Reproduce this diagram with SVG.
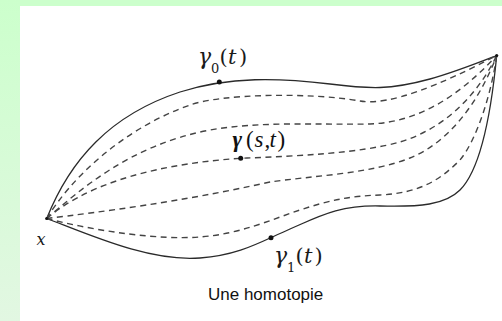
<svg xmlns="http://www.w3.org/2000/svg" width="502" height="321" viewBox="0 0 502 321">
  <defs>
    <linearGradient id="side" x1="0" y1="0" x2="0" y2="1">
      <stop offset="0" stop-color="#ccffcc"/>
      <stop offset="1" stop-color="#e2f7e2"/>
    </linearGradient>
  </defs>
  <style>
    .solid { fill: none; stroke: #2a2a2a; stroke-width: 1.3; }
    .dash { fill: none; stroke: #444; stroke-width: 1.4; stroke-dasharray: 6 4.5; }
    .dot { fill: #111; }
    .math { font-family: "DejaVu Serif", "Liberation Serif", serif; fill: #1a1a1a; }
    .times { font-family: "Liberation Serif", "DejaVu Serif", serif; fill: #111; }
    .it { font-style: italic; }
    .cap { font-family: "Liberation Sans", Arial, sans-serif; font-size: 17px; fill: #111; }
  </style>

  <rect x="0" y="0" width="502" height="321" fill="#ffffff"/>
  <rect x="0" y="0" width="502" height="6" fill="#ccffcc"/>
  <rect x="0" y="0" width="20" height="321" fill="url(#side)"/>

  <g id="connectors">
    <path id="gamma0" class="solid" d="M46.7,218.5 C70,160 110,115 180,92 C230,76 280,78 330,84 C370,89 390,90 430,79 C455,72 480,62 496.7,55.5"/>
    <path id="gamma1" class="solid" d="M46.7,218.5 C90,235 150,262 200,258 C240,255 260,242 290,229 C320,216 340,205 380,206 C420,207 445,205 460,190 C478,172 490,125 496.7,55.5"/>
    <path id="h1" class="dash" d="M46.7,218.5 C70,180 120,130 190,105 C220,94 310,92 360,101 C390,106 440,85 496.7,55.5"/>
    <path id="h2" class="dash" d="M46.7,218.5 C80,190 130,145 210,130 C260,121 320,125 370,124 C420,122 460,95 496.7,55.5"/>
    <path id="h3" class="dash" d="M46.7,218.5 C80,190 140,165 240.7,158.3 C300,156 360,153 400,142 C440,130 475,100 496.7,55.5"/>
    <path id="h4" class="dash" d="M46.7,218.5 C100,212 180,202 270,182 C310,176 370,174 410,158 C450,142 480,100 496.7,55.5"/>
    <path id="h5" class="dash" d="M46.7,218.5 C100,232 160,240 200,237 C240,234 270,220 300,210 C330,200 350,196 380,195 C420,193 440,180 460,160 C478,138 492,90 496.7,55.5"/>
  </g>

  <g id="node-x">
    <circle class="dot" cx="46.7" cy="218.5" r="1.6"/>
    <text class="math it" x="36.5" y="244.5" font-size="16">x</text>
  </g>
  <g id="node-y">
    <circle class="dot" cx="496.7" cy="55.5" r="1.6"/>
  </g>
  <g id="node-gamma0">
    <circle class="dot" cx="219.3" cy="82" r="2.5"/>
    <text class="math" font-size="21"><tspan class="it" x="198" y="63.5" font-size="22">γ</tspan><tspan x="211" y="72.5" font-size="13">0</tspan><tspan x="219.5" y="63.5">(</tspan><tspan class="it" x="228" y="63.5">t</tspan><tspan x="239" y="63.5">)</tspan></text>
  </g>
  <g id="node-gamma-st">
    <circle class="dot" cx="240.7" cy="158.3" r="2.5"/>
    <text class="times" font-size="23"><tspan class="it" font-weight="bold" x="232.5" y="147">γ</tspan><tspan x="246" y="147">(</tspan><tspan class="it" x="254.5" y="147">s</tspan><tspan x="264.5" y="147">,</tspan><tspan class="it" x="269.5" y="147">t</tspan><tspan x="277.5" y="147">)</tspan></text>
  </g>
  <g id="node-gamma1">
    <circle class="dot" cx="271" cy="237.8" r="2.5"/>
    <text class="math" font-size="21"><tspan class="it" x="274" y="263" font-size="22">γ</tspan><tspan x="287" y="272" font-size="13">1</tspan><tspan x="295.5" y="263">(</tspan><tspan class="it" x="304" y="263">t</tspan><tspan x="314.5" y="263">)</tspan></text>
  </g>

  <text class="cap" x="208" y="300">Une homotopie</text>
</svg>
